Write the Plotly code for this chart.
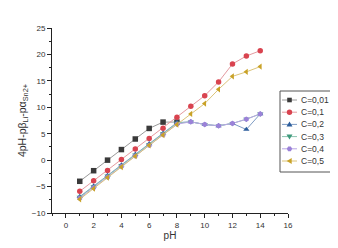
import plotly.graph_objects as go

ph = [1, 2, 3, 4, 5, 6, 7, 8, 9, 10, 11, 12, 13, 14]
names = ["C=0,01", "C=0,1", "C=0,2", "C=0,3", "C=0,4", "C=0,5"]
c001 = [-4, -2, 0, 2, 4, 6, 7.2, 7.2]
c01 = [-5.9, -3.9, -1.95, 0.1, 2.1, 4.1, 6.05, 8.1, 10.2, 12.2, 14.8, 18.2, 19.7, 20.7]
c02 = [-6.9, -4.9, -2.9, -0.9, 1.1, 3.1, 5.1, 7.1, 7.25, 6.75, 6.5, 6.95, 5.8, 8.75]
c03 = [-7.0, -5.0, -3.0, -1.0, 1.0, 3.0, 5.0, 7.0, 7.25, 6.75, 6.5, 6.95, 7.75, 8.75]
c04 = [-7.2, -5.2, -3.2, -1.2, 0.8, 2.8, 4.8, 6.8, 7.25, 6.75, 6.5, 6.95, 7.75, 8.75]
c05 = [-7.4, -5.4, -3.3, -1.3, 0.75, 2.8, 4.75, 6.75, 8.75, 10.7, 13.4, 15.85, 16.7, 17.7]
series = [c001, c01, c02, c03, c04, c05]

marker_colors = ["#3a3a3a", "#d9434f", "#2b5d9c", "#3f9a7c", "#9b82d8", "#c9a227"]
line_colors = ["#9a9a9a", "#e49aa0", "#7f9cc4", "#8cc4b0", "#b8a6e4", "#dcc47a"]
symbols = ["square", "circle", "triangle-up", "triangle-down", "hexagon", "triangle-left"]

FONT = "Liberation Sans, Arial"
OFF = 8  # page body margin in the browser
W, H = 338 - OFF, 248 - OFF
L, R, T, B = 52 - OFF, 50, 28 - OFF, 35
PW, PH = W - L - R, H - T - B

def px(x):
    return (x - OFF - L) / PW

def py(y):
    return (H - B - (y - OFF)) / PH

fig = go.Figure()
for name, vals, mc, lc, sym in zip(names, series, marker_colors, line_colors, symbols):
    fig.add_trace(go.Scatter(
        x=ph[:len(vals)], y=vals, mode="lines+markers", name=name,
        line=dict(color=lc, width=1),
        marker=dict(color=mc, symbol=sym, size=5.5),
        showlegend=False,
    ))

# compact legend (plotly's own legend rows are too tall for this size)
marker_paths = {
    "square": "M-2.3,-2.3 L2.3,-2.3 L2.3,2.3 L-2.3,2.3 Z",
    "triangle-up": "M-3,-2.2 L3,-2.2 L0,2.8 Z",
    "triangle-down": "M-3,2.2 L3,2.2 L0,-2.8 Z",
    "hexagon": "M2.7,0 L1.35,2.34 L-1.35,2.34 L-2.7,0 L-1.35,-2.34 L1.35,-2.34 Z",
    "triangle-left": "M2.2,-3 L2.2,3 L-2.8,0 Z",
}
fig.add_shape(type="rect", xref="paper", yref="paper", x0=px(280), x1=px(337),
              y0=py(91), y1=py(172), line=dict(color="#555", width=1),
              fillcolor="white", layer="above")
row_y0, row_dy = 100, 12.2
for i, (name, mc, lc, sym) in enumerate(zip(names, marker_colors, line_colors, symbols)):
    yy = row_y0 + i * row_dy
    fig.add_shape(type="line", xref="paper", yref="paper", x0=px(282), x1=px(297),
                  y0=py(yy), y1=py(yy), line=dict(color=lc, width=1), layer="above")
    if sym == "circle":
        fig.add_shape(type="circle", xref="paper", yref="paper", xsizemode="pixel", ysizemode="pixel",
                      xanchor=px(289.5), yanchor=py(yy), x0=-2.7, x1=2.7, y0=-2.7, y1=2.7,
                      fillcolor=mc, line=dict(width=0), layer="above")
    else:
        fig.add_shape(type="path", xref="paper", yref="paper", xsizemode="pixel", ysizemode="pixel",
                      xanchor=px(289.5), yanchor=py(yy), path=marker_paths[sym],
                      fillcolor=mc, line=dict(width=0), layer="above")
    fig.add_annotation(x=px(299), y=py(yy), xref="paper", yref="paper", text=name,
                       showarrow=False, xanchor="left", yanchor="middle",
                       font=dict(family=FONT, size=8.5, color="#333"))

axis_common = dict(
    showline=True, linecolor="#222", linewidth=1, ticks="outside", ticklen=4,
    tickcolor="#222", showgrid=False, zeroline=False, automargin=False,
    tickfont=dict(family=FONT, size=8, color="#333"),
    minor=dict(ticks="outside", ticklen=2, tickcolor="#222"),
)
fig.update_xaxes(range=[-1, 16], tickvals=list(range(0, 17, 2)), minor_dtick=1,
                 title=dict(text="pH", font=dict(family=FONT, size=10, color="#333"), standoff=3),
                 **axis_common)
fig.update_yaxes(range=[-10, 25], dtick=5, minor_dtick=2.5,
                 title=dict(text="4pH-pβ<sub>Li</sub>-pα<sub>Sn2+</sub>",
                            font=dict(family=FONT, size=10.5, color="#333"), standoff=3),
                 **axis_common)

fig.update_layout(
    width=W, height=H, autosize=False,
    margin=dict(l=L, r=R, t=T, b=B, pad=0),
    paper_bgcolor="white", plot_bgcolor="white",
    showlegend=False,
)
fig.write_html("out.html")
